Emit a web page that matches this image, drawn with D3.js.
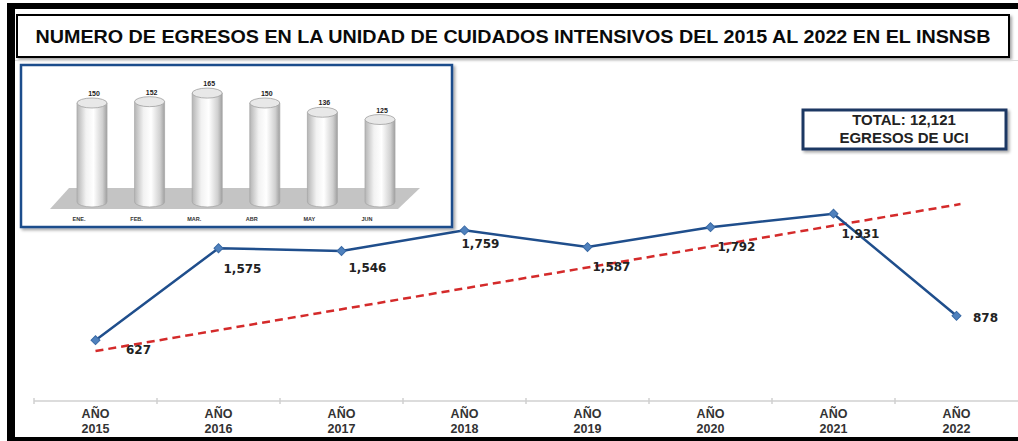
<!DOCTYPE html>
<html>
<head>
<meta charset="utf-8">
<script src="https://cdn.jsdelivr.net/npm/d3@7"></script>
<style>
	body { margin: 0; background: #fff; }
	svg { display: block; }
</style>
</head>
<body>
<div id="chart"></div>
<script>
// datos anuales
var years = ["2015", "2016", "2017", "2018", "2019", "2020", "2021", "2022"];
var egresos = [627, 1575, 1546, 1759, 1587, 1792, 1931, 878];
// linea de tendencia (extremos)
var trendValues = [515, 2030];
// grafico pequeño por mes
var months = ["ENE.", "FEB.", "MAR.", "ABR", "MAY", "JUN"];
var monthValues = [150, 152, 165, 150, 136, 125];
var totalText = ["TOTAL: 12,121", "EGRESOS DE UCI"];
var title = "NUMERO DE EGRESOS EN LA UNIDAD DE CUIDADOS INTENSIVOS DEL 2015 AL 2022 EN EL INSNSB";

(function() {
	var width = 1018, height = 441;
	var svg = d3.select("#chart").append("svg")
		.attr("width", width)
		.attr("height", height);

	var defs = svg.append("defs");
	var cyl = defs.append("linearGradient").attr("id", "cyl");
	[["0%", "#b5b5b5"], ["30%", "#f2f2f2"], ["55%", "#ffffff"], ["85%", "#d0d0d0"], ["100%", "#a0a0a0"]].forEach(function(s) {
		cyl.append("stop").attr("offset", s[0]).attr("stop-color", s[1]);
	});
	var shadow = defs.append("filter").attr("id", "shadow")
		.attr("x", "-5%").attr("y", "-5%").attr("width", "110%").attr("height", "120%");
	shadow.append("feDropShadow").attr("dx", 2).attr("dy", 2).attr("stdDeviation", 1.5)
		.attr("flood-color", "#000").attr("flood-opacity", 0.35);

	// marco exterior
	svg.append("rect").attr("x", 7).attr("y", 3).attr("width", 8).attr("height", height - 3).attr("fill", "#000");
	svg.append("rect").attr("x", 7).attr("y", 3).attr("width", width - 7).attr("height", 6).attr("fill", "#000");
	svg.append("rect").attr("x", 7).attr("y", 437).attr("width", width - 7).attr("height", 4).attr("fill", "#000");

	// titulo
	svg.append("rect")
		.attr("x", 17).attr("y", 15).attr("width", 992).attr("height", 42)
		.attr("fill", "#fff").attr("stroke", "#000").attr("stroke-width", 2)
		.attr("filter", "url(#shadow)");
	svg.append("text")
		.attr("x", 513).attr("y", 42.5)
		.attr("text-anchor", "middle")
		.attr("textLength", 955)
		.attr("lengthAdjust", "spacingAndGlyphs")
		.style("font-family", "'Liberation Sans Narrow', 'Liberation Sans', Arial, sans-serif")
		.style("font-weight", "bold")
		.style("font-size", "18px")
		.attr("fill", "#0a0a0a")
		.text(title);
	svg.append("line").attr("x1", 15).attr("x2", width).attr("y1", 60.5).attr("y2", 60.5)
		.attr("stroke", "#dcdcdc").attr("stroke-width", 1);

	// escalas principales
	var x = d3.scaleBand().domain(years).range([34, 1018]).padding(0);
	var y = d3.scaleLinear().domain([0, 3500]).range([401, 61.5]);
	var cx = d => x(d) + x.bandwidth() / 2;

	// eje
	var axis = svg.append("g");
	axis.append("line").attr("x1", 34).attr("x2", width).attr("y1", 401).attr("y2", 401)
		.attr("stroke", "#d0d0d0").attr("stroke-width", 1.5);
	axis.selectAll(".tk").data(years).join("line")
		.attr("x1", d => x(d)).attr("x2", d => x(d))
		.attr("y1", 398).attr("y2", 404)
		.attr("stroke", "#d0d0d0").attr("stroke-width", 1.5);
	var lbl = axis.selectAll(".lbl").data(years).join("text")
		.attr("text-anchor", "middle")
		.style("font-family", "'Liberation Sans', Arial, sans-serif")
		.style("font-weight", "bold")
		.style("font-size", "12.5px")
		.attr("fill", "#333");
	lbl.append("tspan").attr("x", cx).attr("y", 418).text("AÑO");
	lbl.append("tspan").attr("x", cx).attr("y", 433).text(d => d);

	// tendencia
	var trendYears = [years[0], years[years.length - 1]];
	svg.append("path")
		.datum(trendValues.map((v, i) => [cx(trendYears[i]) + (i ? 4 : 0), y(v)]))
		.attr("d", d3.line())
		.attr("fill", "none")
		.attr("stroke", "#d42a2a")
		.attr("stroke-width", 2.5)
		.attr("stroke-dasharray", "8,5");

	// serie
	var pts = years.map((yr, i) => ({ year: yr, value: egresos[i] }));
	svg.append("path")
		.datum(pts)
		.attr("d", d3.line().x(d => cx(d.year)).y(d => y(d.value)))
		.attr("fill", "none")
		.attr("stroke", "#1f4e8c")
		.attr("stroke-width", 2.5);
	svg.selectAll(".mk").data(pts).join("path")
		.attr("d", d3.symbol(d3.symbolSquare, 40))
		.attr("transform", d => `translate(${cx(d.year)},${y(d.value)}) rotate(45)`)
		.attr("fill", "#4f81bd")
		.attr("stroke", "#3a6aa5")
		.attr("stroke-width", 1);

	// posicion de etiquetas (dx, dy respecto al marcador)
	var labelOffsets = [[43, 14], [24, 25], [26, 21], [16, 18], [24, 24], [26, 24], [27, 24], [29, 6]];
	svg.selectAll(".vl").data(pts).join("text")
		.attr("x", (d, i) => cx(d.year) + labelOffsets[i][0])
		.attr("y", (d, i) => y(d.value) + labelOffsets[i][1])
		.attr("text-anchor", "middle")
		.style("font-family", "'DejaVu Sans', Verdana, sans-serif")
		.style("font-weight", "bold")
		.style("font-size", "12px")
		.attr("fill", "#222")
		.text(d => d3.format(",")(d.value));

	// caja total
	svg.append("rect")
		.attr("x", 803).attr("y", 110).attr("width", 203).attr("height", 39)
		.attr("fill", "#fff").attr("stroke", "#1f3864").attr("stroke-width", 3)
		.attr("filter", "url(#shadow)");
	svg.selectAll(".tot").data(totalText).join("text")
		.attr("x", 904).attr("y", (d, i) => 125 + i * 18)
		.attr("text-anchor", "middle")
		.style("font-family", "'Liberation Sans', Arial, sans-serif")
		.style("font-weight", "bold")
		.style("font-size", "15px")
		.attr("fill", "#222")
		.text(d => d);

	// grafico mensual
	var inset = svg.append("g");
	inset.append("rect")
		.attr("x", 21).attr("y", 65).attr("width", 431).attr("height", 162)
		.attr("fill", "#fff").attr("stroke", "#1f4e8c").attr("stroke-width", 2.5)
		.attr("filter", "url(#shadow)");
	inset.append("path")
		.attr("d", "M50,209L69,188L420,188L398,209Z")
		.attr("fill", "#c4c4c4");
	var mx = d3.scaleBand().domain(months).range([63.2, 408.8]).padding(0);
	var my = d3.scaleLinear().domain([0, 200]).range([202, 70]);
	var mcx = d => mx(d) + mx.bandwidth() / 2;
	var rx = 15, ry = 5;
	var mdata = months.map((m, i) => ({ month: m, value: monthValues[i] }));
	var cg = inset.selectAll(".cyl").data(mdata).join("g");
	cg.append("path")
		.attr("d", d => {
			var c = mcx(d.month), t = my(d.value), b = my(0);
			return `M${c - rx},${t}L${c - rx},${b}A${rx},${ry} 0 0 0 ${c + rx},${b}L${c + rx},${t}Z`;
		})
		.attr("fill", "url(#cyl)")
		.attr("stroke", "#a8a8a8")
		.attr("stroke-width", 0.8);
	cg.append("ellipse")
		.attr("cx", d => mcx(d.month)).attr("cy", d => my(d.value))
		.attr("rx", rx).attr("ry", ry)
		.attr("fill", "#e8e8e8")
		.attr("stroke", "#a0a0a0")
		.attr("stroke-width", 0.8);
	cg.append("text")
		.attr("x", d => mcx(d.month) + 2)
		.attr("y", d => my(d.value) - 7)
		.attr("text-anchor", "middle")
		.style("font-family", "'Liberation Sans Narrow', 'Liberation Sans', Arial, sans-serif")
		.style("font-weight", "bold")
		.style("font-size", "7px")
		.attr("fill", "#222")
		.text(d => d.value);
	inset.selectAll(".ml").data(months).join("text")
		.attr("x", d => mcx(d) - 13)
		.attr("y", 221)
		.attr("text-anchor", "middle")
		.style("font-family", "'Liberation Sans Narrow', 'Liberation Sans', Arial, sans-serif")
		.style("font-weight", "bold")
		.style("font-size", "5.5px")
		.attr("fill", "#333")
		.text(d => d);
})();
</script>
</body>
</html>
